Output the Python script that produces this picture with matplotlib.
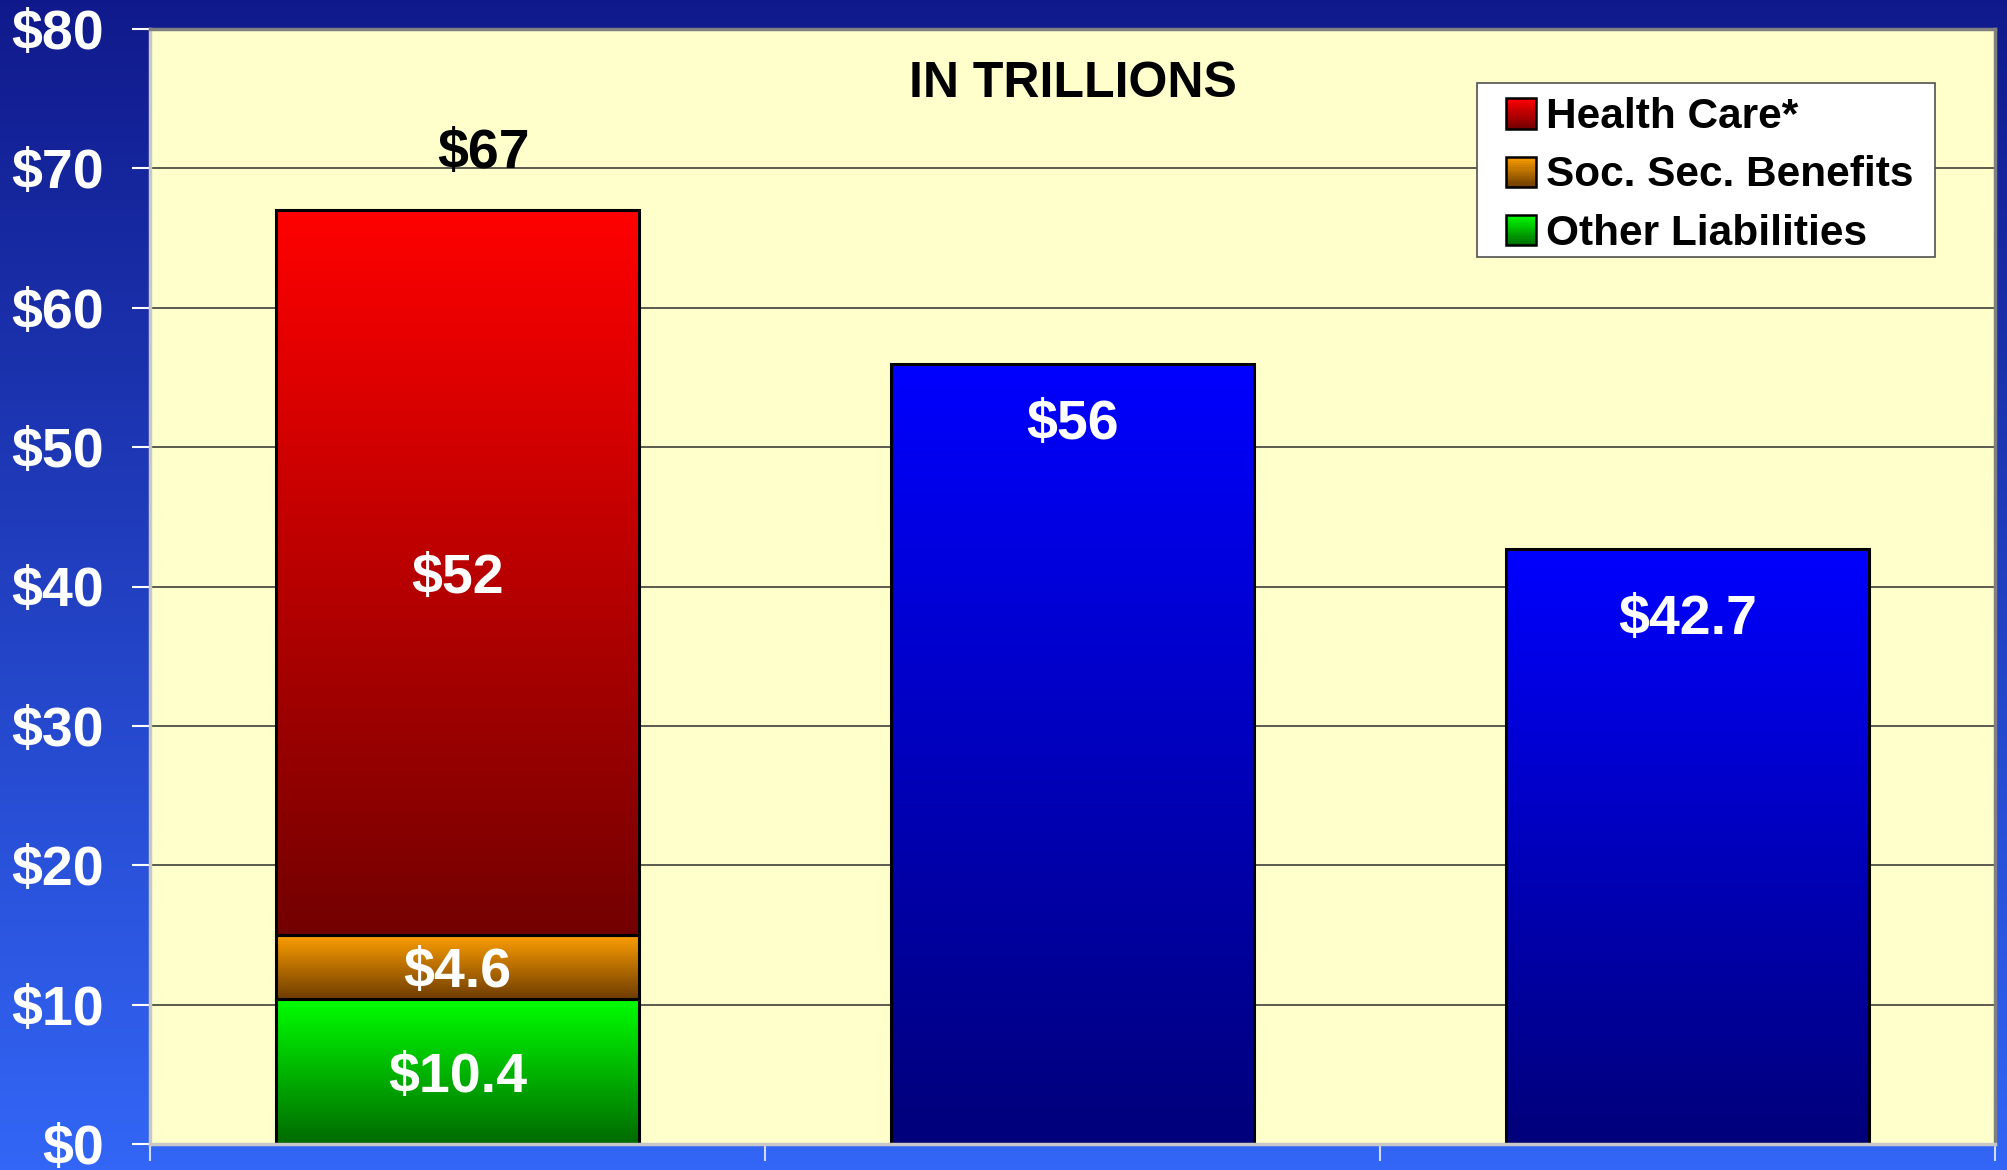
import numpy as np
import matplotlib
matplotlib.use("Agg")
import matplotlib.pyplot as plt
from matplotlib.patches import Rectangle
from matplotlib.legend_handler import HandlerBase
from matplotlib.colors import to_rgb

# ---------------- data ----------------
categories = ["Unfunded Liabilities", "Comparison A", "Comparison B"]
other_liabilities = [10.4, 0, 0]
soc_sec_benefits = [4.6, 0, 0]
health_care = [52, 0, 0]
single_values = [0, 56, 42.7]
series_names = ["Health Care*", "Soc. Sec. Benefits", "Other Liabilities"]
y_ticks = [0, 10, 20, 30, 40, 50, 60, 70, 80]
y_tick_labels = ["$0", "$10", "$20", "$30", "$40", "$50", "$60", "$70", "$80"]
chart_title = "IN TRILLIONS"

# ---------------- style ----------------
plt.rcParams["font.family"] = ["Liberation Sans", "DejaVu Sans"]
plt.rcParams["font.weight"] = "bold"

grad_colors = {  # (top, bottom)
    "Health Care*": ("#FF0000", "#730000"),
    "Soc. Sec. Benefits": ("#FFA000", "#6E3C00"),
    "Other Liabilities": ("#00FF00", "#006A00"),
    "single": ("#0000FF", "#00007A"),
}

W, H = 2007, 1170
fig = plt.figure(figsize=(W / 100, H / 100), dpi=100)

# background gradient
bg = fig.add_axes([0, 0, 1, 1], zorder=-10)
t = np.linspace(0, 1, 256).reshape(-1, 1)
top_bg = np.array(to_rgb("#101A8C"))
bot_bg = np.array(to_rgb("#3366F6"))
bg_img = bot_bg + (top_bg - bot_bg) * t[..., None]
bg.imshow(bg_img, aspect="auto", extent=[0, 1, 0, 1], origin="lower")
bg.set_axis_off()

ax = fig.add_axes([150 / W, 26 / H, (1995 - 150) / W, (1144 - 29) / H])
ax.set_facecolor("#FFFFCC")

x = np.arange(len(categories))
width = 0.59


def grad_fill(ax, xc, bottom, height, top_col, bot_col):
    g = np.linspace(0, 1, 256).reshape(-1, 1)
    tc = np.array(to_rgb(top_col))
    bc = np.array(to_rgb(bot_col))
    img = bc + (tc - bc) * g[..., None]
    ax.imshow(img, aspect="auto", origin="lower", interpolation="bilinear",
              extent=[xc - width / 2, xc + width / 2, bottom, bottom + height], zorder=2)


layers = [("Other Liabilities", other_liabilities),
          ("Soc. Sec. Benefits", soc_sec_benefits),
          ("Health Care*", health_care)]
bottoms = np.zeros(len(categories))
for name, vals in layers:
    vals = np.array(vals, dtype=float)
    ax.bar(x, vals, width, bottom=bottoms, facecolor="none",
           edgecolor="black", linewidth=2.2, zorder=3)
    for xi, v, b in zip(x, vals, bottoms):
        if v > 0:
            grad_fill(ax, xi, b, v, *grad_colors[name])
            ax.text(xi, b + v / 2, f"${v:g}", ha="center", va="center_baseline",
                    color="white", fontsize=40, fontweight="bold", zorder=5)
    bottoms = bottoms + vals

totals = bottoms
for xi, tot in zip(x, totals):
    if tot > 0:
        ax.annotate(f"${tot:g}", (xi, tot), xytext=(19, 45), textcoords="offset points",
                    ha="center", va="center_baseline", fontsize=40, fontweight="bold",
                    color="black", zorder=5)

single = np.array(single_values, dtype=float)
ax.bar(x, single, width, facecolor="none", edgecolor="black", linewidth=2.2, zorder=3)
label_offsets = [0, -40, -47]
for xi, v, off in zip(x, single, label_offsets):
    if v > 0:
        grad_fill(ax, xi, 0, v, *grad_colors["single"])
        ax.annotate(f"${v:g}", (xi, v), xytext=(0, off), textcoords="offset points",
                    ha="center", va="center_baseline", fontsize=40, fontweight="bold",
                    color="white", zorder=5)

ax.set_xlim(-0.5, len(categories) - 0.5)
ax.set_ylim(0, 80)
ax.set_yticks(y_ticks)
ax.set_yticklabels(y_tick_labels)
ax.set_xticks(np.arange(len(categories) + 1) - 0.5)
ax.set_xticklabels([])
ax.yaxis.grid(True, color="#5A5A50", linewidth=1.4, zorder=1)
ax.set_axisbelow(True)
ax.tick_params(axis="y", length=13, width=1.5, color="white", pad=20,
               labelsize=40, labelcolor="white")
ax.tick_params(axis="x", length=12, width=1.5, color="#D0DCFF", direction="out")
for lbl in ax.get_yticklabels():
    lbl.set_fontweight("bold")

ax.spines["left"].set_color("#C8C8C8")
ax.spines["bottom"].set_color("#C8C8C8")
ax.spines["top"].set_color("#808080")
ax.spines["right"].set_color("#808080")
for s in ax.spines.values():
    s.set_linewidth(2.5)
    s.set_zorder(6)

ax.text(0.5, 0.955, chart_title, transform=ax.transAxes, ha="center",
        va="center_baseline", fontsize=36, fontweight="bold", color="black")


class GradientHandler(HandlerBase):
    def __init__(self, top, bottom, n=14):
        super().__init__()
        self.top = np.array(to_rgb(top))
        self.bottom = np.array(to_rgb(bottom))
        self.n = n

    def create_artists(self, legend, orig_handle, xdescent, ydescent, width, height,
                       fontsize, trans):
        arts = []
        size = height
        x0 = -xdescent
        y0 = -ydescent
        for i in range(self.n):
            frac = (i + 0.5) / self.n
            c = self.bottom + (self.top - self.bottom) * frac
            arts.append(Rectangle((x0, y0 + size * i / self.n), size,
                                  size / self.n + 0.05, facecolor=c, edgecolor="none",
                                  transform=trans))
        arts.append(Rectangle((x0, y0), size, size, facecolor="none",
                              edgecolor="black", linewidth=1.8, transform=trans))
        return arts


# legend frame (drawn separately so the inner margins match)
frame = Rectangle((1477 / W, 1 - 257 / H), (1935 - 1477) / W, (257 - 83) / H,
                  transform=fig.transFigure, facecolor="white", edgecolor="#505050",
                  linewidth=1.2, zorder=9)
fig.patches.append(frame)

handles = [Rectangle((0, 0), 1, 1) for _ in series_names]
hmap = {h: GradientHandler(*grad_colors[n]) for h, n in zip(handles, series_names)}
leg = fig.legend(handles, series_names, handler_map=hmap, loc="center left",
                 bbox_to_anchor=(1506 / W, 1 - 175.5 / H), bbox_transform=fig.transFigure,
                 fontsize=30.5, frameon=False,
                 handlelength=0.66, handleheight=0.72, handletextpad=0.28,
                 labelspacing=0.43, borderpad=0, borderaxespad=0)
for txt in leg.get_texts():
    txt.set_fontweight("bold")
leg.set_zorder(10)

fig.savefig("out.png", dpi=100)
